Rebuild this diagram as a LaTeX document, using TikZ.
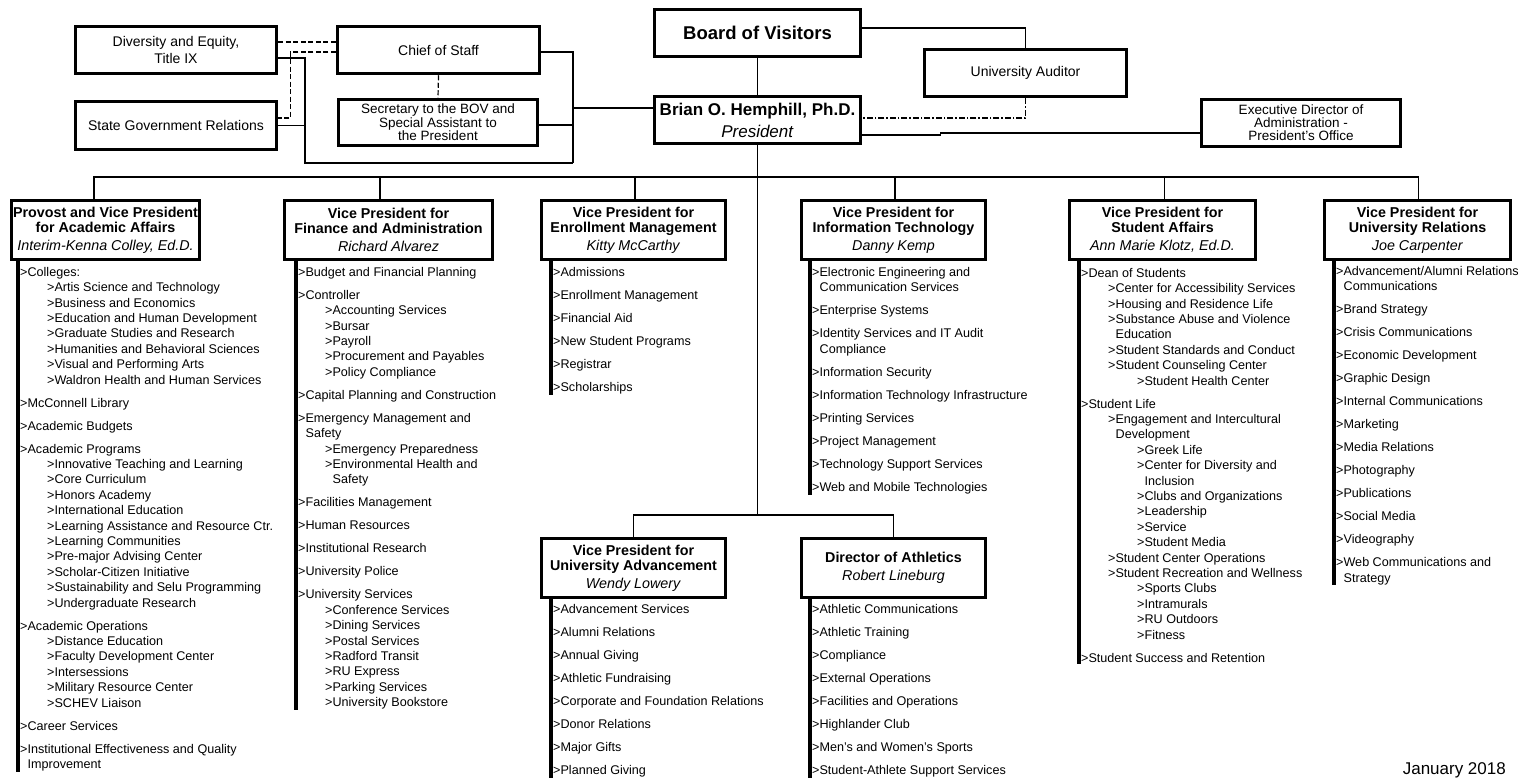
\documentclass[tikz,border=0pt]{standalone}
\usepackage{fontspec}
\setmainfont{Liberation Sans}
\newcommand{\lvA}{\hspace*{27pt}}
\newcommand{\lvB}{\hspace*{56pt}}
\newcommand{\ctn}{\hspace*{7.5pt}}
\tikzset{
  box/.style={draw, line width=3.5pt, fill=white, inner sep=0pt, align=center},
  vpbox/.style={box, minimum height=59pt, font=\fontsize{14.3}{15}\selectfont},
  conn/.style={line width=1.2pt},
  dsh/.style={line width=1.2pt, dash pattern=on 5pt off 2.5pt},
  dshdot/.style={line width=1.2pt, dash pattern=on 6pt off 2pt on 1.5pt off 2pt},
  bar/.style={line width=4pt},
  items/.style={anchor=north west, inner sep=0pt, align=left, font=\fontsize{12.6}{15.4}\selectfont},
}
\begin{document}
\begin{tikzpicture}[x=1pt,y=-1pt]
\useasboundingbox (0,0) rectangle (1522,780);
\fill[white] (0,0) rectangle (1522,780);

% ---------- top boxes ----------
\node[box, minimum width=206pt, minimum height=47pt, font=\fontsize{18.5}{20}\selectfont\bfseries] (bov) at (757.5,33) {Board of Visitors};
\node[box, minimum width=206pt, minimum height=47pt, font=\fontsize{17}{22}\selectfont] (pres) at (757.5,120) {\textbf{Brian O. Hemphill, Ph.D.}\\\textit{President}};
\node[box, minimum width=202pt, minimum height=47pt, font=\fontsize{14}{16}\selectfont] (aud) at (1025.5,73) {University Auditor};
\node[box, minimum width=199pt, minimum height=47pt, font=\fontsize{13.5}{13}\selectfont] (exec) at (1301,123) {Executive Director of\\Administration -\\President's Office};
\node[box, minimum width=201pt, minimum height=47pt, font=\fontsize{14}{17}\selectfont] (div) at (176,50) {Diversity and Equity,\\Title IX};
\node[box, minimum width=201pt, minimum height=48pt, font=\fontsize{14}{17}\selectfont] (sgr) at (176,125.5) {State Government Relations};
\node[box, minimum width=202pt, minimum height=47pt, font=\fontsize{14}{17}\selectfont] (cos) at (438.5,50) {Chief of Staff};
\node[box, minimum width=199pt, minimum height=46pt, font=\fontsize{13.5}{12.5}\selectfont] (sec) at (438,122.5) {Secretary to the BOV and\\Special Assistant to\\the President};

% ---------- VP boxes ----------
\node[vpbox, minimum width=188pt] (prov) at (105.5,230) {\textbf{Provost and Vice President}\\\textbf{for Academic Affairs}\\[3pt]\textit{Interim-Kenna Colley, Ed.D.}};
\node[vpbox, minimum width=208pt] (fin) at (388.5,230) {\textbf{Vice President for}\\\textbf{Finance and Administration}\\[3pt]\textit{Richard Alvarez}};
\node[vpbox, minimum width=184pt] (enr) at (633.5,230) {\textbf{Vice President for}\\\textbf{Enrollment Management}\\[3pt]\textit{Kitty McCarthy}};
\node[vpbox, minimum width=184pt] (it) at (893.5,230) {\textbf{Vice President for}\\\textbf{Information Technology}\\[3pt]\textit{Danny Kemp}};
\node[vpbox, minimum width=186pt] (sa) at (1162.5,230) {\textbf{Vice President for}\\\textbf{Student Affairs}\\[3pt]\textit{Ann Marie Klotz, Ed.D.}};
\node[vpbox, minimum width=186pt] (ur) at (1417.5,230) {\textbf{Vice President for}\\\textbf{University Relations}\\[3pt]\textit{Joe Carpenter}};
\node[vpbox, minimum width=184pt] (adv) at (633.5,568) {\textbf{Vice President for}\\\textbf{University Advancement}\\[3pt]\textit{Wendy Lowery}};
\node[vpbox, minimum width=184pt] (ath) at (893.5,568) {\textbf{Director of Athletics}\\[3pt]\textit{Robert Lineburg}};

% ---------- top connectors ----------
\draw[conn] (bov.south) -- (pres.north);
\draw[conn] ([yshift=5pt]bov.east) -| (aud.north);
\draw[dshdot] (aud.south) |- ([yshift=2pt]pres.east);
\draw[conn] ([yshift=-15pt]pres.east) -- ++(78pt,0) -- ++(0,2pt) -- ([yshift=-10pt]exec.west);

\draw[dsh] ([yshift=8pt]div.east) -- ([yshift=8pt]cos.west);
\draw[dsh] ([yshift=-2pt]cos.west) -| ([xshift=12pt,yshift=7.5pt]sgr.east) -- ([yshift=7.5pt]sgr.east);
\draw[dsh] (cos.south) -- (sec.north);
\coordinate (bl) at (305,163);
\coordinate (br) at (573,163);
\draw[conn] ([yshift=-8pt]div.east) -| (bl) -- (br);
\draw[conn] (sgr.east) -| (bl);
\draw[conn] ([yshift=-2pt]cos.east) -| (br);
\draw[conn] ([yshift=-2.5pt]sec.east) -| (br);
\draw[conn] ([yshift=12pt]pres.west) -| (br);

% ---------- buses ----------
\coordinate (bus) at (757.5,177);
\coordinate (bus2) at (757.5,515);
\draw[conn] (pres.south) -- (bus2);
\draw[conn] ([xshift=-11.5pt]prov.north) |- (bus);
\draw[conn] ([xshift=-8.5pt]fin.north) |- (bus);
\draw[conn] ([xshift=1.5pt]enr.north) |- (bus);
\draw[conn] ([xshift=1.5pt]it.north) |- (bus);
\draw[conn] ([xshift=2pt]sa.north) |- (bus);
\draw[conn] ([xshift=1pt]ur.north) |- (bus);
\draw[conn] (adv.north) |- (bus2);
\draw[conn] (ath.north) |- (bus2);

% ---------- bars ----------
\coordinate (provE) at (18,772);
\coordinate (finE) at (296,710);
\coordinate (enrE) at (551,395);
\coordinate (itE) at (810,495);
\coordinate (saE) at (1079,664);
\coordinate (urE) at (1334,585);
\coordinate (advE) at (551,778);
\coordinate (athE) at (810,778);
\draw[bar] (prov.south -| provE) -- (provE);
\draw[bar] (fin.south -| finE) -- (finE);
\draw[bar] (enr.south -| enrE) -- (enrE);
\draw[bar] (it.south -| itE) -- (itE);
\draw[bar] (sa.south -| saE) -- (saE);
\draw[bar] (ur.south -| urE) -- (urE);
\draw[bar] (adv.south -| advE) -- (advE);
\draw[bar] (ath.south -| athE) -- (athE);

% ---------- lists ----------
\node[items] (provL) at (20,267) {>Colleges:\\
\lvA>Artis Science and Technology\\
\lvA>Business and Economics\\
\lvA>Education and Human Development\\
\lvA>Graduate Studies and Research\\
\lvA>Humanities and Behavioral Sciences\\
\lvA>Visual and Performing Arts\\
\lvA>Waldron Health and Human Services\\[7.6pt]
>McConnell Library\\[7.6pt]
>Academic Budgets\\[7.6pt]
>Academic Programs\\
\lvA>Innovative Teaching and Learning\\
\lvA>Core Curriculum\\
\lvA>Honors Academy\\
\lvA>International Education\\
\lvA>Learning Assistance and Resource Ctr.\\
\lvA>Learning Communities\\
\lvA>Pre-major Advising Center\\
\lvA>Scholar-Citizen Initiative\\
\lvA>Sustainability and Selu Programming\\
\lvA>Undergraduate Research\\[7.6pt]
>Academic Operations\\
\lvA>Distance Education\\
\lvA>Faculty Development Center\\
\lvA>Intersessions\\
\lvA>Military Resource Center\\
\lvA>SCHEV Liaison\\[7.6pt]
>Career Services\\[7.6pt]
>Institutional Effectiveness and Quality\\
\ctn Improvement};

\node[items] (finL) at (298,267) {>Budget and Financial Planning\\[7.6pt]
>Controller\\
\lvA>Accounting Services\\
\lvA>Bursar\\
\lvA>Payroll\\
\lvA>Procurement and Payables\\
\lvA>Policy Compliance\\[7.6pt]
>Capital Planning and Construction\\[7.6pt]
>Emergency Management and\\
\ctn Safety\\
\lvA>Emergency Preparedness\\
\lvA>Environmental Health and\\
\lvA\ctn Safety\\[7.6pt]
>Facilities Management\\[7.6pt]
>Human Resources\\[7.6pt]
>Institutional Research\\[7.6pt]
>University Police\\[7.6pt]
>University Services\\
\lvA>Conference Services\\
\lvA>Dining Services\\
\lvA>Postal Services\\
\lvA>Radford Transit\\
\lvA>RU Express\\
\lvA>Parking Services\\
\lvA>University Bookstore};

\node[items] (enrL) at (553,267) {>Admissions\\[7.6pt]
>Enrollment Management\\[7.6pt]
>Financial Aid\\[7.6pt]
>New Student Programs\\[7.6pt]
>Registrar\\[7.6pt]
>Scholarships};

\node[items] (itL) at (812,267) {>Electronic Engineering and\\
\ctn Communication Services\\[7.6pt]
>Enterprise Systems\\[7.6pt]
>Identity Services and IT Audit\\
\ctn Compliance\\[7.6pt]
>Information Security\\[7.6pt]
>Information Technology Infrastructure\\[7.6pt]
>Printing Services\\[7.6pt]
>Project Management\\[7.6pt]
>Technology Support Services\\[7.6pt]
>Web and Mobile Technologies};

\node[items] (saL) at (1081,268) {>Dean of Students\\
\lvA>Center for Accessibility Services\\
\lvA>Housing and Residence Life\\
\lvA>Substance Abuse and Violence\\
\lvA\ctn Education\\
\lvA>Student Standards and Conduct\\
\lvA>Student Counseling Center\\
\lvB>Student Health Center\\[7.6pt]
>Student Life\\
\lvA>Engagement and Intercultural\\
\lvA\ctn Development\\
\lvB>Greek Life\\
\lvB>Center for Diversity and\\
\lvB\ctn Inclusion\\
\lvB>Clubs and Organizations\\
\lvB>Leadership\\
\lvB>Service\\
\lvB>Student Media\\
\lvA>Student Center Operations\\
\lvA>Student Recreation and Wellness\\
\lvB>Sports Clubs\\
\lvB>Intramurals\\
\lvB>RU Outdoors\\
\lvB>Fitness\\[7.6pt]
>Student Success and Retention};

\node[items] (urL) at (1336,266) {>Advancement/Alumni Relations\\
\ctn Communications\\[7.6pt]
>Brand Strategy\\[7.6pt]
>Crisis Communications\\[7.6pt]
>Economic Development\\[7.6pt]
>Graphic Design\\[7.6pt]
>Internal Communications\\[7.6pt]
>Marketing\\[7.6pt]
>Media Relations\\[7.6pt]
>Photography\\[7.6pt]
>Publications\\[7.6pt]
>Social Media\\[7.6pt]
>Videography\\[7.6pt]
>Web Communications and\\
\ctn Strategy};

\node[items] (advL) at (553,604) {>Advancement Services\\[7.6pt]
>Alumni Relations\\[7.6pt]
>Annual Giving\\[7.6pt]
>Athletic Fundraising\\[7.6pt]
>Corporate and Foundation Relations\\[7.6pt]
>Donor Relations\\[7.6pt]
>Major Gifts\\[7.6pt]
>Planned Giving};

\node[items] (athL) at (812,604) {>Athletic Communications\\[7.6pt]
>Athletic Training\\[7.6pt]
>Compliance\\[7.6pt]
>External Operations\\[7.6pt]
>Facilities and Operations\\[7.6pt]
>Highlander Club\\[7.6pt]
>Men's and Women's Sports\\[7.6pt]
>Student-Athlete Support Services};

\node[anchor=base east, inner sep=0pt, font=\fontsize{17}{20}\selectfont] (date) at (1506,774) {January 2018};
\end{tikzpicture}
\end{document}
